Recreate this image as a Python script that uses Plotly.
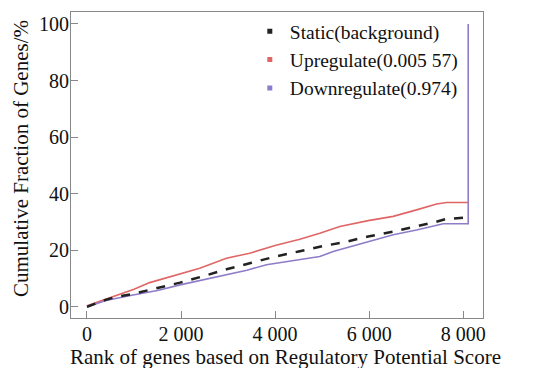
import plotly.graph_objects as go

static_x = [0, 300, 600, 979, 1400, 1979, 2500, 2965, 3500, 4000, 4500, 4950, 5500, 5979, 6500, 7007, 7400, 7645, 8000, 8060]
static_y = [0, 2.0, 3.5, 4.6, 6.3, 8.6, 11.0, 13.3, 15.6, 17.8, 19.6, 21.3, 23.0, 24.9, 26.6, 28.4, 30.0, 31.1, 31.6, 31.6]

up_x = [0, 300, 624, 1000, 1333, 1700, 1979, 2397, 2965, 3461, 4000, 4525, 4950, 5376, 5979, 6511, 7007, 7433, 7645, 8106]
up_y = [0.4, 2.2, 4.2, 6.3, 8.6, 10.3, 11.7, 13.7, 17.2, 19.0, 21.7, 23.9, 26.0, 28.4, 30.5, 32.0, 34.3, 36.4, 36.9, 36.9]

down_x = [0, 400, 979, 1500, 1979, 2500, 2965, 3400, 3816, 4000, 4500, 4950, 5234, 5600, 5979, 6511, 7007, 7400, 7574, 8106, 8106]
down_y = [0, 2.3, 4.2, 5.8, 7.8, 9.7, 11.3, 13.0, 14.9, 15.4, 16.5, 17.8, 19.6, 21.3, 23.1, 25.5, 27.2, 28.8, 29.4, 29.4, 100]

names = ["Static(background)", "Upregulate(0.005 57)", "Downregulate(0.974)"]
colors = ["#222222", "#e06666", "#8e7cc8"]

x_ticks = [0, 2000, 4000, 6000, 8000]
x_ticklabels = ["0", "2 000", "4 000", "6 000", "8 000"]
y_ticks = [0, 20, 40, 60, 80, 100]

x_title = "Rank of genes based on Regulatory Potential Score"
y_title = "Cumulative Fraction of Genes/%"

font = "Liberation Serif, Times New Roman, serif"

fig = go.Figure()
fig.add_trace(go.Scatter(x=up_x, y=up_y, mode="lines", line=dict(color=colors[1], width=1.6), showlegend=False))
fig.add_trace(go.Scatter(x=down_x, y=down_y, mode="lines", line=dict(color=colors[2], width=1.6), showlegend=False))
fig.add_trace(go.Scatter(x=static_x, y=static_y, mode="lines", line=dict(color=colors[0], width=2.5, dash="dash"), showlegend=False))

for n, c in zip(names, colors):
    fig.add_trace(go.Scatter(x=[None], y=[None], mode="markers", name=n,
                             marker=dict(symbol="square", size=5, color=c)))

axis_common = dict(showline=True, linecolor="#888888", linewidth=1, mirror=True,
                   ticks="inside", ticklen=7, tickcolor="#888888", showgrid=False, zeroline=False,
                   tickfont=dict(family=font, size=20, color="#111111"))

fig.update_xaxes(range=[-340, 8420], tickvals=x_ticks, ticktext=x_ticklabels,
                 ticklabelstandoff=-2, **axis_common)
fig.update_yaxes(range=[-3.9, 104.2], tickvals=y_ticks, ticklabelstandoff=-3, **axis_common)

fig.add_annotation(text=x_title, xref="paper", yref="paper", x=0.52, y=-0.128,
                   xanchor="center", yanchor="middle", showarrow=False,
                   font=dict(family=font, size=21, color="#111111"))
fig.add_annotation(text=y_title, xref="paper", yref="paper", x=-0.121, y=0.52,
                   xanchor="center", yanchor="middle", showarrow=False, textangle=-90,
                   font=dict(family=font, size=21, color="#111111"))

# The page adds an 8px body margin, so the figure is sized to fit in the window
fig.update_layout(
    width=540, height=360,
    margin=dict(l=63, r=65, t=4, b=50, autoexpand=False),
    plot_bgcolor="white", paper_bgcolor="white",
    legend=dict(x=0.434, y=1.0, xanchor="left", yanchor="top", bgcolor="rgba(0,0,0,0)",
                font=dict(family=font, size=19.5, color="#111111"), itemwidth=30,
                tracegroupgap=0),
)

fig.write_html("out.html")
